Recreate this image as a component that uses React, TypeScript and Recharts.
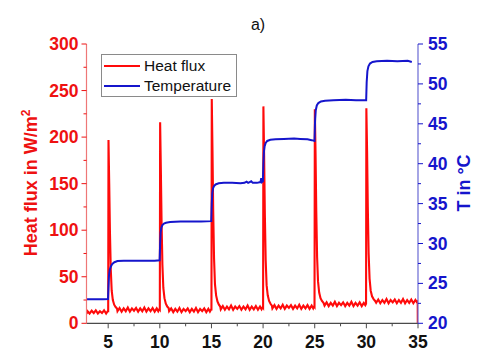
import React from 'react';
import { LineChart, Line, XAxis, YAxis, Legend } from 'recharts';

const chartTitle = 'a)';
const leftAxisLabel = 'Heat flux in W/m';
const rightAxisLabel = 'T in °C';
const fluxName = 'Heat flux';
const tempName = 'Temperature';

const xTicks = [5, 7.5, 10, 12.5, 15, 17.5, 20, 22.5, 25, 27.5, 30, 32.5, 35];
const fluxTicks = [0, 25, 50, 75, 100, 125, 150, 175, 200, 225, 250, 275, 300];
const tempTicks = [20, 22.5, 25, 27.5, 30, 32.5, 35, 37.5, 40, 42.5, 45, 47.5, 50, 52.5, 55];

// [time, heat flux W/m2]
const heatFlux: [number, number][] = [
  [2.9, 10], [3.0, 13], [3.2, 10.5], [3.4, 13.5], [3.6, 11], [3.8, 14], [4.0, 10.5], [4.2, 13], [4.4, 11], [4.6, 14], [4.8, 10.5], [4.95, 13],
  [5.0, 13], [5.03, 197], [5.1, 150], [5.17, 98], [5.25, 58], [5.34, 35], [5.45, 25], [5.58, 20], [5.72, 17.5], [5.85, 16],
  [5.9, 13], [6.1, 16.5], [6.3, 12.5], [6.5, 16], [6.7, 13], [6.9, 17], [7.1, 12.5], [7.3, 16], [7.5, 13.5], [7.7, 16.5], [7.9, 12.5], [8.1, 16], [8.3, 13], [8.5, 17], [8.7, 12.5], [8.9, 16], [9.1, 13], [9.3, 16.5], [9.5, 12.5], [9.7, 16], [9.85, 13], [9.97, 15.5],
  [10.0, 15], [10.03, 216], [10.1, 165], [10.17, 108], [10.25, 63], [10.34, 38], [10.45, 27], [10.58, 21], [10.72, 18], [10.85, 16.5],
  [10.9, 13], [11.1, 16], [11.3, 12], [11.5, 15.5], [11.7, 12.5], [11.9, 16.5], [12.1, 12], [12.3, 15.5], [12.5, 13], [12.7, 16], [12.9, 12], [13.1, 15.5], [13.3, 12.5], [13.5, 16.5], [13.7, 12], [13.9, 15.5], [14.1, 13], [14.3, 16], [14.5, 12], [14.7, 15.5], [14.85, 12.5], [14.97, 15],
  [15.0, 15], [15.03, 241], [15.1, 185], [15.17, 120], [15.25, 70], [15.34, 42], [15.45, 30], [15.58, 23.5], [15.72, 20], [15.85, 18],
  [15.9, 15], [16.1, 18.5], [16.3, 14.5], [16.5, 18], [16.7, 15], [16.9, 19], [17.1, 14.5], [17.3, 18], [17.5, 15.5], [17.7, 18.5], [17.9, 14.5], [18.1, 18], [18.3, 15], [18.5, 19], [18.7, 14.5], [18.9, 18], [19.1, 15], [19.3, 18.5], [19.5, 14.5], [19.7, 18], [19.85, 15], [19.97, 17.5],
  [20.0, 17], [20.03, 233], [20.1, 180], [20.17, 117], [20.25, 68], [20.34, 41], [20.45, 30], [20.58, 24], [20.72, 21], [20.85, 19],
  [20.9, 16], [21.1, 19.5], [21.3, 15.5], [21.5, 19], [21.7, 16], [21.9, 20], [22.1, 15.5], [22.3, 19], [22.5, 16.5], [22.7, 19.5], [22.9, 15.5], [23.1, 19], [23.3, 16], [23.5, 20], [23.7, 15.5], [23.9, 19], [24.1, 16], [24.3, 19.5], [24.5, 15.5], [24.7, 19], [24.85, 16], [24.95, 18.5],
  [24.98, 18], [25.01, 230], [25.08, 182], [25.15, 120], [25.23, 71], [25.32, 45], [25.43, 33], [25.56, 27], [25.7, 24], [25.85, 22],
  [25.95, 19], [26.15, 22.5], [26.35, 18.5], [26.55, 22], [26.75, 19], [26.95, 23], [27.15, 18.5], [27.35, 22], [27.55, 19.5], [27.75, 22.5], [27.95, 18.5], [28.15, 22], [28.35, 19], [28.55, 23], [28.75, 18.5], [28.95, 22], [29.15, 19], [29.35, 22.5], [29.55, 18.5], [29.75, 22], [29.9, 19.5],
  [29.97, 21], [30.0, 231], [30.07, 185], [30.14, 124], [30.22, 75], [30.31, 48], [30.42, 35], [30.55, 29], [30.7, 26], [30.85, 24],
  [30.95, 22], [31.15, 25.5], [31.35, 21.5], [31.55, 25], [31.75, 22], [31.95, 26], [32.15, 21.5], [32.35, 25], [32.55, 22.5], [32.75, 25.5], [32.95, 21.5], [33.15, 25], [33.35, 22], [33.55, 26], [33.75, 21.5], [33.95, 25], [34.15, 22], [34.35, 25.5], [34.55, 21.5], [34.75, 25], [34.9, 22.5], [34.97, 24.5], [34.98, 0],
];

// [time, temperature °C]
const temperature: [number, number][] = [
  [2.9, 23.0], [3.5, 23.0], [4.0, 23.0], [4.5, 23.0], [4.98, 23.05],
  [5.03, 24.6], [5.08, 26.0], [5.15, 26.7], [5.25, 27.1], [5.4, 27.45], [5.6, 27.65], [5.9, 27.8], [6.5, 27.85], [7.5, 27.85], [8.5, 27.85], [9.5, 27.85], [9.98, 27.9],
  [10.03, 30.0], [10.08, 31.4], [10.15, 32.0], [10.25, 32.3], [10.4, 32.5], [10.6, 32.6], [11.0, 32.7], [12, 32.75], [13, 32.75], [14, 32.75], [14.98, 32.8],
  [15.03, 35.0], [15.08, 36.3], [15.15, 36.9], [15.25, 37.2], [15.4, 37.4], [15.7, 37.55], [16.2, 37.6], [17, 37.6], [17.8, 37.55], [18.2, 37.6], [18.4, 37.75], [18.55, 37.6], [18.7, 37.7], [18.85, 37.8], [19.0, 37.6], [19.4, 37.6], [19.75, 37.7], [19.82, 38.2], [19.88, 37.7], [19.98, 37.8],
  [20.03, 40.0], [20.08, 41.5], [20.15, 42.2], [20.25, 42.6], [20.4, 42.85], [20.7, 43.0], [21.2, 43.05], [22, 43.1], [23, 43.15], [23.6, 43.1], [24.3, 43.05], [24.7, 42.95], [24.98, 42.85],
  [25.03, 45.3], [25.1, 46.7], [25.2, 47.3], [25.35, 47.6], [25.6, 47.8], [26.0, 47.9], [26.8, 47.95], [28, 48.0], [29, 47.95], [29.98, 47.95],
  [30.03, 50.2], [30.1, 51.6], [30.2, 52.2], [30.35, 52.55], [30.6, 52.75], [31.0, 52.85], [32, 52.9], [33, 52.85], [34, 52.9], [34.4, 52.75],
];

const fluxData = heatFlux.map(([t, q]) => ({ t, q }));
const tempData = temperature.map(([t, T]) => ({ t, T }));

const RED = '#ee1111';
const BLUE = '#1515cc';
const FONT = '"Liberation Sans", Arial, Helvetica, sans-serif';
const AXIS = '#4a4a4a';

const BottomTick = (props: any) => {
  const { x, y, payload } = props;
  const major = payload.value % 5 === 0;
  return (
    <g>
      <line x1={x} x2={x} y1={y} y2={y + (major ? 5 : 3)} stroke={AXIS} strokeWidth={1} />
      {major && (
        <text x={x} y={y + 25} textAnchor="middle" fontSize={17.5} fontWeight="bold" fill="#111" fontFamily={FONT}>
          {payload.value}
        </text>
      )}
    </g>
  );
};

const TopTick = (props: any) => {
  const { x, y, payload } = props;
  const major = payload.value % 5 === 0;
  return <line x1={x} x2={x} y1={y} y2={y + (major ? 5 : 3)} stroke={AXIS} strokeWidth={1} />;
};

const LeftTick = (props: any) => {
  const { x, y, payload } = props;
  const major = payload.value % 50 === 0;
  return (
    <g>
      <line x1={x - (major ? 5 : 3)} x2={x} y1={y} y2={y} stroke={RED} strokeWidth={1} />
      {major && (
        <text x={x - 8} y={y + 6} textAnchor="end" fontSize={17.5} fontWeight="bold" fill={RED} fontFamily={FONT}>
          {payload.value}
        </text>
      )}
    </g>
  );
};

const RightTick = (props: any) => {
  const { x, y, payload } = props;
  const major = payload.value % 5 === 0;
  return (
    <g>
      <line x1={x} x2={x + (major ? 5 : 3)} y1={y} y2={y} stroke={BLUE} strokeWidth={1} />
      {major && (
        <text x={x + 10} y={y + 6} textAnchor="start" fontSize={17.5} fontWeight="bold" fill={BLUE} fontFamily={FONT}>
          {payload.value}
        </text>
      )}
    </g>
  );
};

const renderLegend = (props: any) => {
  const items = (props.payload || []) as any[];
  return (
    <div
      style={{
        width: 136,
        height: 43,
        border: '1px solid #8a8a8a',
        background: '#fff',
        boxSizing: 'border-box',
        fontFamily: FONT,
        fontSize: 15.5,
        color: '#111',
        paddingTop: 1,
      }}
    >
      {items.map((it: any) => (
        <div key={it.value} style={{ display: 'flex', alignItems: 'center', height: 20 }}>
          <svg width={42} height={20} style={{ display: 'block' }}>
            <line x1={2} x2={38} y1={10} y2={10} stroke={it.color} strokeWidth={2} />
          </svg>
          <span style={{ lineHeight: '20px', whiteSpace: 'nowrap' }}>{it.value}</span>
        </div>
      ))}
    </div>
  );
};

export default function App() {
  return (
    <div style={{ position: 'absolute', left: 0, top: 0, width: 485, height: 360, background: '#fff' }}>
      <div
        style={{
          position: 'absolute',
          left: 0,
          top: 16,
          width: 516,
          textAlign: 'center',
          fontFamily: FONT,
          fontSize: 16,
          color: '#111',
          zIndex: 2,
        }}
      >
        {chartTitle}
      </div>
      <LineChart width={485} height={360} margin={{ top: 44, right: 0, bottom: 0, left: 0 }}>
        <XAxis
          xAxisId="bottom"
          type="number"
          dataKey="t"
          domain={[2.9, 35]}
          allowDataOverflow
          ticks={xTicks}
          interval={0}
          height={36.7}
          tickSize={0}
          tickMargin={0}
          tickLine={false}
          tick={<BottomTick />}
          axisLine={{ stroke: AXIS, strokeWidth: 1.2 }}
        />
        <XAxis
          xAxisId="top"
          orientation="top"
          type="number"
          dataKey="t"
          domain={[2.9, 35]}
          allowDataOverflow
          ticks={xTicks}
          interval={0}
          height={0}
          tickSize={0}
          tickMargin={0}
          tickLine={false}
          tick={<TopTick />}
          axisLine={{ stroke: AXIS, strokeWidth: 1.2 }}
        />
        <YAxis
          yAxisId="q"
          orientation="left"
          type="number"
          domain={[0, 300]}
          allowDataOverflow
          ticks={fluxTicks}
          interval={0}
          width={86.5}
          tickSize={0}
          tickMargin={0}
          tickLine={false}
          tick={<LeftTick />}
          axisLine={{ stroke: '#ee7777', strokeWidth: 1.2 }}
          label={{
            content: () => (
              <text
                transform="translate(36.5,183) rotate(-90)"
                textAnchor="middle"
                fontSize={18}
                fontWeight="bold"
                fill={RED}
                fontFamily={FONT}
              >
                {leftAxisLabel}
                <tspan dy={-7} fontSize={12}>2</tspan>
              </text>
            ),
          }}
        />
        <YAxis
          yAxisId="T"
          orientation="right"
          type="number"
          domain={[20, 55]}
          allowDataOverflow
          ticks={tempTicks}
          interval={0}
          width={67}
          tickSize={0}
          tickMargin={0}
          tickLine={false}
          tick={<RightTick />}
          axisLine={{ stroke: '#6a6ad4', strokeWidth: 1.2 }}
          label={{
            content: () => (
              <text
                transform="translate(469.5,183) rotate(-90)"
                textAnchor="middle"
                fontSize={18}
                fontWeight="bold"
                fill={BLUE}
                fontFamily={FONT}
              >
                {rightAxisLabel}
              </text>
            ),
          }}
        />
        <Legend
          layout="vertical"
          align="center"
          verticalAlign="middle"
          content={renderLegend}
          wrapperStyle={{ position: 'absolute', left: 101, top: 54, width: 136, height: 43 }}
        />
        <Line
          name={fluxName}
          data={fluxData}
          xAxisId="bottom"
          yAxisId="q"
          dataKey="q"
          type="linear"
          stroke="#ff0a0a"
          strokeWidth={2.1}
          dot={false}
          isAnimationActive={false}
        />
        <Line
          name={tempName}
          data={tempData}
          xAxisId="bottom"
          yAxisId="T"
          dataKey="T"
          type="linear"
          stroke={BLUE}
          strokeWidth={2}
          dot={false}
          isAnimationActive={false}
        />
      </LineChart>
    </div>
  );
}
